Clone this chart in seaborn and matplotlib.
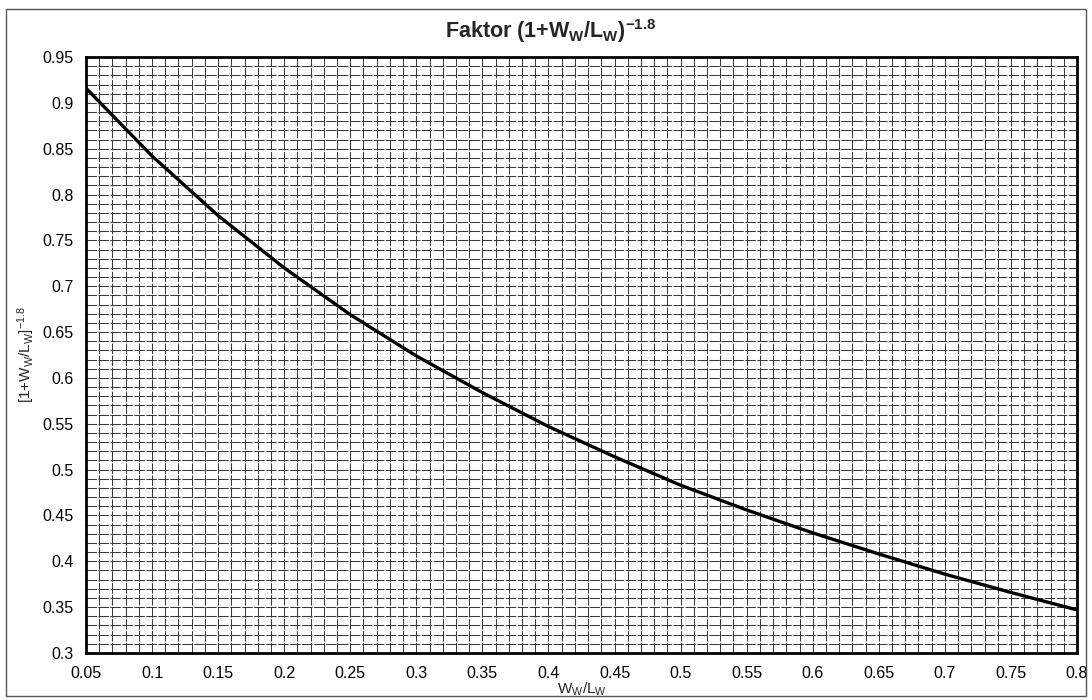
import matplotlib
matplotlib.use("Agg")
import matplotlib.pyplot as plt
import seaborn as sns
import numpy as np
import pandas as pd
from matplotlib.ticker import MultipleLocator
from matplotlib.patches import Rectangle

# Data
ratio = [0.05, 0.10, 0.15, 0.20, 0.25, 0.30, 0.35, 0.40, 0.45, 0.50,
         0.55, 0.60, 0.65, 0.70, 0.75, 0.80]
factor = [0.916, 0.842, 0.777, 0.720, 0.669, 0.624, 0.584, 0.547, 0.514, 0.483,
          0.456, 0.431, 0.408, 0.386, 0.366, 0.347]
x_ticks = [0.05, 0.1, 0.15, 0.2, 0.25, 0.3, 0.35, 0.4, 0.45, 0.5, 0.55, 0.6, 0.65, 0.7, 0.75, 0.8]
y_ticks = [0.3, 0.35, 0.4, 0.45, 0.5, 0.55, 0.6, 0.65, 0.7, 0.75, 0.8, 0.85, 0.9, 0.95]

df = pd.DataFrame({"ratio": ratio, "factor": factor})

sns.set_style("white")
plt.rcParams['font.family'] = ['Liberation Sans', 'DejaVu Sans']
plt.rcParams['axes.unicode_minus'] = False
plt.rcParams['mathtext.default'] = 'regular'

fig = plt.figure(figsize=(10.92, 7.0), dpi=100)
ax = fig.add_axes([86/1092, 47/700, (1077-86)/1092, (653-57)/700])

sns.lineplot(data=df, x="ratio", y="factor", ax=ax, color="black", linewidth=2.4)

ax.set_xlim(0.05, 0.8)
ax.set_ylim(0.3, 0.95)
ax.set_xticks(x_ticks)
ax.set_yticks(y_ticks)
ax.set_xticklabels([f"{v:g}" for v in x_ticks])
ax.set_yticklabels([f"{v:g}" for v in y_ticks])
ax.xaxis.set_minor_locator(MultipleLocator(0.01))
ax.yaxis.set_minor_locator(MultipleLocator(0.01))
ax.grid(which="both", color="#3a3a3a", linewidth=0.75, linestyle=(0, (10, 1.5)))
ax.set_axisbelow(True)
ax.tick_params(which="major", direction="out", length=3, width=0.8, labelsize=11.5, pad=6, colors="black")
ax.tick_params(which="minor", length=0)
for s in ax.spines.values():
    s.set_color("black")
    s.set_linewidth(2.0)

ax.set_xlabel(r"W$_{W}$/L$_{W}$", fontsize=11, labelpad=0)
ax.set_ylabel(r"[1+W$_{W}$/L$_{W}$]$^{-1.8}$", fontsize=11, labelpad=4)
fig.text(0.504, 1 - 38/700, r"Faktor (1+W$_{W}$/L$_{W}$)$^{-1.8}$",
         fontsize=15.5, fontweight="bold", ha="center", va="baseline")

# outer chart-area border
fig.patches.append(Rectangle((6/1092, 4/700), 1 - 12/1092, 1 - 13/700,
                             transform=fig.transFigure, fill=False,
                             edgecolor="#555555", linewidth=1.0))

fig.savefig("out.png", dpi=100)
